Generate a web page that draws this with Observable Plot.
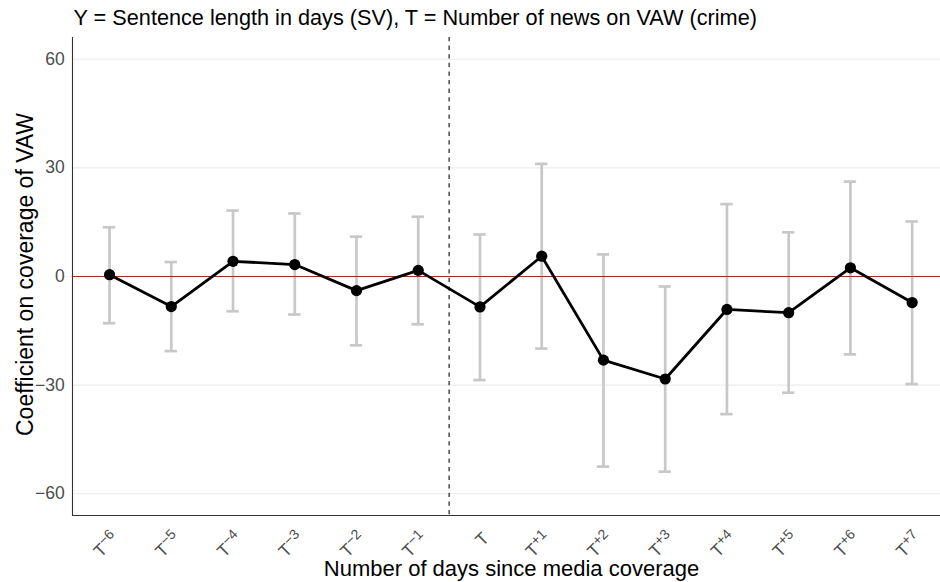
<!DOCTYPE html>
<html><head><meta charset="utf-8">
<script src="https://cdn.jsdelivr.net/npm/d3@7"></script>
<script src="https://cdn.jsdelivr.net/npm/@observablehq/plot@0.6"></script>
<style>
body{margin:0;background:#fff}
svg{font-family:"Liberation Sans",Arial,Helvetica,sans-serif}
</style>
</head><body><div id="chart"></div>
<script>
const days = [-6, -5, -4, -3, -2, -1, 0, 1, 2, 3, 4, 5, 6, 7];
const tickExponents = ["−6","−5","−4","−3","−2","−1","","+1","+2","+3","+4","+5","+6","+7"];
const coef  = [0.5, -8.3, 4.2, 3.3, -3.9, 1.7, -8.4, 5.6, -23.1, -28.3, -9.1, -10.0, 2.4, -7.2];
const upper = [13.6, 4.0, 18.2, 17.4, 11.0, 16.5, 11.6, 31.1, 6.1, -2.75, 20.0, 12.2, 26.2, 15.2];
const lower = [-12.9, -20.6, -9.6, -10.5, -19.0, -13.2, -28.6, -19.9, -52.5, -53.9, -38.0, -32.1, -21.5, -29.7];
const yTicks = [-60, -30, 0, 30, 60];
const eventAt = -0.5;
const titleText = "Y = Sentence length in days (SV), T = Number of news on VAW (crime)";
const xTitle = "Number of days since media coverage";
const yTitle = "Coefficient on coverage of VAW";

const data = days.map((d, i) => ({day: d, coef: coef[i], lo: lower[i], hi: upper[i]}));
const capHalf = 0.1;
const font = "Liberation Sans, Arial, Helvetica, sans-serif";

const plot = Plot.plot({
  width: 940,
  height: 582,
  marginLeft: 72,
  marginRight: 0,
  marginTop: 37,
  marginBottom: 67,
  style: {fontFamily: font, background: "white", overflow: "hidden"},
  x: {domain: [-6.6, 7.6], range: [72, 948.7]},
  y: {domain: [-66, 66]},
  marks: [
    Plot.ruleY(yTicks, {stroke: "#ebebeb", strokeWidth: 1.07}),
    Plot.ruleX(data, {x: "day", y1: "lo", y2: "hi", stroke: "#c8c8c8", strokeWidth: 2.7}),
    Plot.ruleY(data, {y: "hi", x1: d => d.day - capHalf, x2: d => d.day + capHalf, stroke: "#c8c8c8", strokeWidth: 2.7}),
    Plot.ruleY(data, {y: "lo", x1: d => d.day - capHalf, x2: d => d.day + capHalf, stroke: "#c8c8c8", strokeWidth: 2.7}),
    Plot.ruleY([0], {stroke: "red", strokeWidth: 1.07}),
    Plot.ruleX([eventAt], {stroke: "black", strokeWidth: 1.07, strokeDasharray: "4.3,4.3"}),
    Plot.line(data, {x: "day", y: "coef", stroke: "black", strokeWidth: 2.8}),
    Plot.dot(data, {x: "day", y: "coef", r: 5.6, fill: "black", stroke: "none"}),
    Plot.ruleX([-6.6], {stroke: "#333333", strokeWidth: 1.1}),
    Plot.ruleY([-66], {stroke: "#333333", strokeWidth: 1.1}),
    Plot.axisY({ticks: yTicks, tickSize: 0, tickPadding: 7.7, fontSize: 17.5, color: "#4d4d4d", label: null,
      tickFormat: d => d < 0 ? "−" + Math.abs(d) : String(d)}),
    Plot.axisX({ticks: days, tickSize: 0, tickPadding: 20, dx: 6, tickRotate: -45, fontSize: 17.5, color: "#4d4d4d", label: null,
      tickFormat: d => "T" + tickExponents[days.indexOf(d)]}),
    Plot.text([titleText], {frameAnchor: "top-left", textAnchor: "start", lineAnchor: "middle", dx: 1, dy: -19, fontSize: 21.7, fill: "black"}),
    Plot.text([xTitle], {frameAnchor: "bottom", textAnchor: "middle", lineAnchor: "middle", dx: 5, dy: 53, fontSize: 22, fill: "black"}),
    Plot.text([yTitle], {frameAnchor: "left", textAnchor: "middle", lineAnchor: "middle", rotate: -90, dx: -47, dy: -2, fontSize: 23, fill: "black"})
  ]
});

d3.select(plot).selectAll('g[aria-label="x-axis tick label"] text').each(function () {
  const t = this.textContent;
  const exp = t.slice(1);
  this.textContent = "T";
  if (exp) d3.select(this).append("tspan").attr("dy", "-0.45em").attr("font-size", "0.8em").text(exp);
});

document.getElementById("chart").appendChild(plot);
</script>
</body></html>
